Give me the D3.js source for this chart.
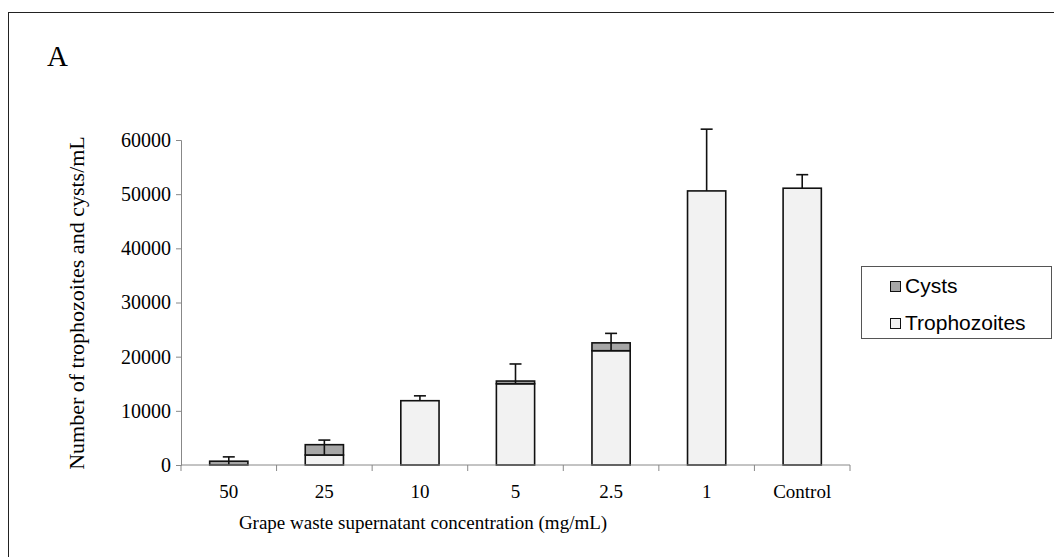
<!DOCTYPE html>
<html>
<head>
<meta charset="utf-8">
<script src="https://cdn.jsdelivr.net/npm/d3@7"></script>
<style>
  body { margin: 0; background: #fff; }
  svg { display: block; }
</style>
</head>
<body>
<svg id="chart" width="1054" height="557"></svg>
<script>
const concentrations = ['50', '25', '10', '5', '2.5', '1', 'Control'];
const trophozoites = [0, 1850, 11870, 15000, 21100, 50600, 51100];
const cysts = [700, 1900, 0, 500, 1450, 0, 0];
const trophoError = [1500, 2750, 900, 3650, 3200, 11400, 2500];
const yTicks = [0, 10000, 20000, 30000, 40000, 50000, 60000];
const legendItems = [
    { name: 'Cysts', color: '#a6a6a6' },
    { name: 'Trophozoites', color: '#f2f2f2' }
];

const svg = d3.select('#chart');
const serif = '"Liberation Serif", "Times New Roman", serif';
const sans = '"Liberation Sans", Arial, sans-serif';

// outer frame
svg.append('rect')
    .attr('x', 8.5).attr('y', 12.5)
    .attr('width', 1060).attr('height', 560)
    .attr('fill', 'none').attr('stroke', '#222').attr('stroke-width', 1);

svg.append('text')
    .attr('x', 47).attr('y', 66)
    .style('font-family', serif).style('font-size', '29px')
    .text('A');

const x = d3.scaleBand()
    .domain(concentrations)
    .range([181, 850])
    .paddingInner(0.6)
    .paddingOuter(0.3);

const y = d3.scaleLinear()
    .domain([0, 60000])
    .range([465, 140]);

const data = concentrations.map((c, i) => ({
    c, t: trophozoites[i], cy: cysts[i], err: trophoError[i]
}));

// bars: trophozoites at bottom, cysts stacked on top
const g = svg.append('g');
g.selectAll('.tropho')
    .data(data.filter(d => d.t > 0))
    .enter().append('rect')
    .attr('x', d => x(d.c))
    .attr('width', x.bandwidth())
    .attr('y', d => y(d.t))
    .attr('height', d => y(0) - y(d.t))
    .attr('fill', '#f2f2f2')
    .attr('stroke', '#111').attr('stroke-width', 1.6);

g.selectAll('.cyst')
    .data(data.filter(d => d.cy > 0))
    .enter().append('rect')
    .attr('x', d => x(d.c))
    .attr('width', x.bandwidth())
    .attr('y', d => y(d.t + d.cy))
    .attr('height', d => y(d.t) - y(d.t + d.cy))
    .attr('fill', '#a6a6a6')
    .attr('stroke', '#111').attr('stroke-width', 1.6);

// error bars (plus direction, from trophozoite top)
const eb = g.selectAll('.err')
    .data(data)
    .enter().append('g')
    .attr('stroke', '#111').attr('stroke-width', 1.6);
eb.append('line')
    .attr('x1', d => x(d.c) + x.bandwidth() / 2)
    .attr('x2', d => x(d.c) + x.bandwidth() / 2)
    .attr('y1', d => y(d.t))
    .attr('y2', d => y(d.t + d.err));
eb.append('line')
    .attr('x1', d => x(d.c) + x.bandwidth() / 2 - 6)
    .attr('x2', d => x(d.c) + x.bandwidth() / 2 + 6)
    .attr('y1', d => y(d.t + d.err))
    .attr('y2', d => y(d.t + d.err));

// y axis
const yAxis = svg.append('g')
    .attr('transform', 'translate(181,0)')
    .call(d3.axisLeft(y).tickValues(yTicks).tickSize(5).tickPadding(5).tickFormat(d3.format('d')));
yAxis.select('.domain').attr('stroke', '#888');
yAxis.selectAll('.tick line').attr('stroke', '#888');
yAxis.selectAll('text')
    .style('font-family', serif).style('font-size', '20px').attr('fill', '#000');

// x axis with ticks between categories
const xAxisG = svg.append('g').attr('transform', 'translate(0,465)');
xAxisG.append('line')
    .attr('x1', 181).attr('x2', 850)
    .attr('stroke', '#888');
const step = x.step();
const boundaries = concentrations.map(c => x(c) - step * x.paddingInner() / 2);
boundaries.push(x(concentrations[concentrations.length - 1]) + x.bandwidth() + step * x.paddingInner() / 2);
xAxisG.selectAll('.xt')
    .data(boundaries)
    .enter().append('line')
    .attr('x1', d => d).attr('x2', d => d)
    .attr('y1', 0).attr('y2', 6)
    .attr('stroke', '#888');
xAxisG.selectAll('.xl')
    .data(concentrations)
    .enter().append('text')
    .attr('x', d => x(d) + x.bandwidth() / 2)
    .attr('y', 33)
    .attr('text-anchor', 'middle')
    .style('font-family', serif).style('font-size', '19px')
    .text(d => d);

svg.append('text')
    .attr('x', 423).attr('y', 529)
    .attr('text-anchor', 'middle')
    .style('font-family', serif).style('font-size', '19px')
    .text('Grape waste supernatant concentration (mg/mL)');

svg.append('text')
    .attr('transform', 'translate(84,303) rotate(-90)')
    .attr('text-anchor', 'middle')
    .style('font-family', serif).style('font-size', '22px')
    .text('Number of trophozoites and cysts/mL');

// legend
const legend = svg.append('g');
legend.append('rect')
    .attr('x', 861.5).attr('y', 266.5)
    .attr('width', 190).attr('height', 72)
    .attr('fill', '#fff').attr('stroke', '#555');
const li = legend.selectAll('.li')
    .data(legendItems)
    .enter().append('g')
    .attr('transform', (d, i) => `translate(890,${281 + i * 37})`);
li.append('rect')
    .attr('x', 0.5).attr('y', 0.5)
    .attr('width', 10).attr('height', 10)
    .attr('fill', d => d.color).attr('stroke', '#111');
li.append('text')
    .attr('x', 15).attr('y', 12)
    .style('font-family', sans).style('font-size', '21px')
    .text(d => d.name);
</script>
</body>
</html>
